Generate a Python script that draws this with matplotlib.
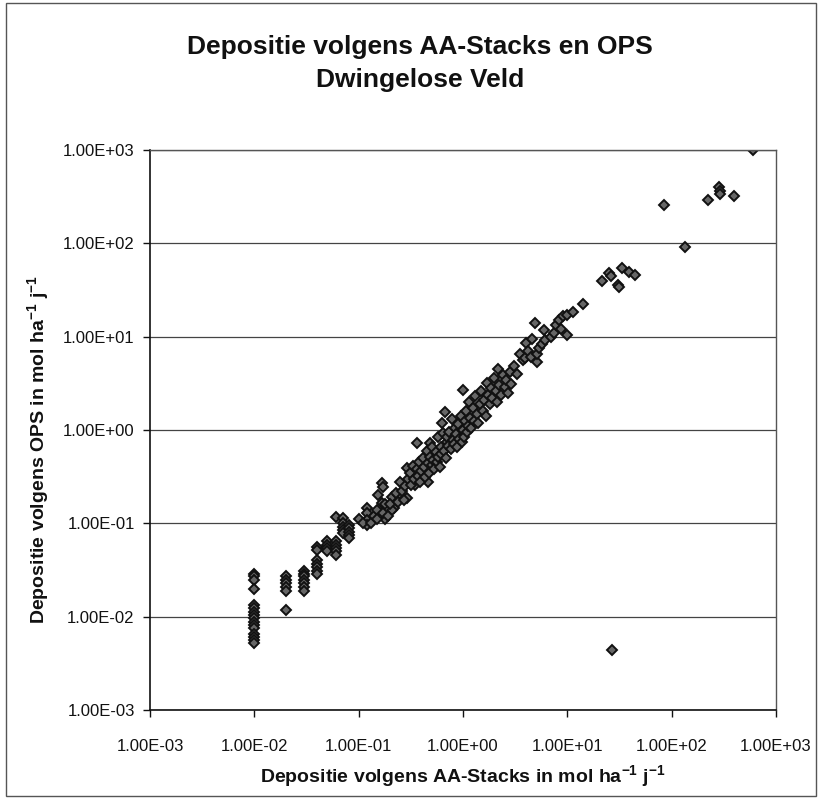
import matplotlib
matplotlib.use("Agg")
import matplotlib.pyplot as plt
from matplotlib.ticker import FixedLocator, FuncFormatter, NullLocator
from matplotlib.patches import Rectangle

plt.rcParams['font.family'] = ['Liberation Sans', 'DejaVu Sans']
plt.rcParams['mathtext.fontset'] = 'custom'
plt.rcParams['mathtext.rm'] = 'Liberation Sans:bold'
plt.rcParams['mathtext.bf'] = 'Liberation Sans:bold'
plt.rcParams['mathtext.default'] = 'bf'

title_lines = ["Depositie volgens AA-Stacks en OPS", "Dwingelose Veld"]
x_label = r"Depositie volgens AA-Stacks in mol ha$^{-1}$ j$^{-1}$"
y_label = r"Depositie volgens OPS in mol ha$^{-1}$ j$^{-1}$"
decades = [1e-3, 1e-2, 1e-1, 1e0, 1e1, 1e2, 1e3]

# --- low columns (AA-Stacks rounded to 0.01 .. 0.12) ---
low_x = ([0.01] * 16 + [0.02] * 6 + [0.03] * 7 + [0.04] * 7 + [0.05] * 4
         + [0.06] * 6 + [0.07] * 5 + [0.08] * 5 + [0.12] * 4)
low_y = [0.029, 0.027, 0.025, 0.020, 0.0133, 0.0123, 0.0113, 0.0104, 0.0096, 0.0088,
         0.0081, 0.0075, 0.0065, 0.0061, 0.0056, 0.0052,
         0.027, 0.025, 0.023, 0.021, 0.019, 0.0118,
         0.031, 0.029, 0.027, 0.025, 0.023, 0.021, 0.019,
         0.056, 0.052, 0.040, 0.037, 0.034, 0.031, 0.029,
         0.064, 0.059, 0.054, 0.051,
         0.118, 0.064, 0.059, 0.054, 0.050, 0.046,
         0.113, 0.100, 0.092, 0.085, 0.078,
         0.096, 0.089, 0.081, 0.075, 0.069,
         0.145, 0.128, 0.108, 0.096]

# --- middle cloud ---
mid_x = [0.18, 0.166, 0.154, 0.21, 0.24, 0.22, 0.21, 0.29, 0.167, 0.17, 0.35, 0.46,
         0.10, 0.11, 0.13, 0.14, 0.15, 0.15, 0.17, 0.18, 0.19, 0.20, 0.23, 0.24, 0.25,
         0.26, 0.27, 0.28, 0.29, 0.30, 0.31, 0.32, 0.33, 0.34, 0.36, 0.36, 0.37, 0.38,
         0.39, 0.40, 0.41, 0.42, 0.43, 0.45, 0.46, 0.47, 0.48, 0.48, 0.50, 0.51, 0.52,
         0.53, 0.55, 0.56, 0.57, 0.58, 0.60, 0.61, 0.62, 0.63, 0.65, 0.66, 0.67, 0.68,
         0.70, 0.71, 0.72, 0.74, 0.76, 0.78, 0.80, 0.82, 0.84, 0.86, 0.88, 0.90, 0.92,
         0.95, 0.97, 1.00, 1.00, 1.02, 1.05, 1.08, 1.10, 1.12, 1.15, 1.18, 1.20, 1.25,
         1.28, 1.30, 1.35, 1.40, 1.45, 1.50, 1.55, 1.60, 1.65, 1.70, 1.75, 1.80, 1.85,
         1.90, 2.00, 2.05, 2.10, 2.15, 2.20, 2.30, 2.40, 2.50, 2.60, 2.70, 2.80, 2.90]
mid_y = [0.11, 0.164, 0.20, 0.193, 0.20, 0.146, 0.14, 0.185, 0.27, 0.245, 0.26, 0.28,
         0.11, 0.10, 0.10, 0.12, 0.14, 0.11, 0.13, 0.16, 0.12, 0.16, 0.21, 0.17, 0.28,
         0.22, 0.18, 0.25, 0.39, 0.30, 0.35, 0.26, 0.41, 0.30, 0.72, 0.38, 0.32, 0.45,
         0.28, 0.36, 0.50, 0.40, 0.31, 0.60, 0.44, 0.35, 0.72, 0.52, 0.42, 0.65, 0.48,
         0.38, 0.58, 0.45, 0.85, 0.52, 0.40, 0.65, 0.55, 1.20, 0.92, 0.60, 1.57, 0.50,
         0.75, 0.85, 0.68, 0.95, 0.62, 1.30, 0.78, 0.70, 1.05, 0.90, 0.65, 1.15, 0.80,
         1.40, 0.75, 2.70, 1.00, 0.85, 1.25, 1.60, 0.95, 1.10, 2.00, 1.35, 1.05, 1.70,
         1.25, 2.30, 1.50, 1.20, 1.90, 2.60, 1.60, 2.10, 1.40, 3.20, 2.40, 1.90, 2.80,
         2.20, 3.60, 2.60, 2.00, 4.50, 3.00, 2.40, 3.90, 2.90, 3.40, 2.50, 4.20, 3.10]

# --- upper range ---
high_x = [3.1, 3.3, 3.5, 3.8, 3.9, 4.0, 4.2, 4.5, 4.6, 4.9, 5.1, 5.1, 5.4, 5.7, 6.0, 6.1,
          7.0, 7.4, 7.8, 8.3, 8.7, 9.1, 9.9, 10.0, 11.4, 14.0, 21.3, 25.0, 26.0, 30.3,
          31.0, 33.2, 39.3, 44.8, 134, 85, 224, 285, 288, 290, 393, 598, 27]
high_y = [4.8, 4.0, 6.5, 5.6, 5.9, 8.5, 7.0, 6.0, 9.5, 13.9, 5.3, 6.6, 7.5, 8.3, 11.8, 9.1,
          9.8, 11.0, 13.5, 15.0, 12.0, 16.5, 17.1, 10.4, 18.5, 22.4, 39.8, 48.5, 45.0, 36.0,
          34.0, 54.0, 49.0, 46.1, 90.6, 258, 291, 400, 365, 338, 321, 1000, 0.0044]

W, H = 818, 800
fig = plt.figure(figsize=(W / 100, H / 100), dpi=100)
fig.patch.set_facecolor('white')

# chart-area border
fig.add_artist(Rectangle((6 / W, 4 / H), (816 - 6) / W, (797 - 4) / H,
                         transform=fig.transFigure, fill=False,
                         edgecolor='#555555', linewidth=1.0))

ax = fig.add_axes([150 / W, 1 - 710 / H, 626 / W, 560 / H])
ax.set_xscale('log')
ax.set_yscale('log')
ax.set_xlim(1e-3, 1e3)
ax.set_ylim(1e-3, 1e3)

ax.xaxis.set_major_locator(FixedLocator(decades))
ax.yaxis.set_major_locator(FixedLocator(decades))
ax.xaxis.set_minor_locator(NullLocator())
ax.yaxis.set_minor_locator(NullLocator())
fmt = FuncFormatter(lambda v, p: f"{v:.2E}")
ax.xaxis.set_major_formatter(fmt)
ax.yaxis.set_major_formatter(fmt)

ax.grid(True, axis='y', color='#444444', linewidth=0.9)
ax.set_axisbelow(True)
for s in ['top', 'right']:
    ax.spines[s].set_color('#555555')
    ax.spines[s].set_linewidth(1.0)
for s in ['left', 'bottom']:
    ax.spines[s].set_color('#111111')
    ax.spines[s].set_linewidth(1.2)

ax.tick_params(axis='x', direction='out', length=5, width=1, pad=16,
               labelsize=12, colors='#111111')
ax.tick_params(axis='y', direction='out', length=5, width=1, pad=6,
               labelsize=12, colors='#111111')

all_x = low_x + mid_x + high_x
all_y = low_y + mid_y + high_y
ax.plot(all_x, all_y, linestyle='none', marker='D', markersize=5.2,
        markerfacecolor='#666666', markeredgecolor='#111111', markeredgewidth=1.4)

fig.text(420 / W, 1 - 47 / H, title_lines[0], ha='center', va='center',
         fontsize=19, fontweight='bold', color='#111111')
fig.text(420 / W, 1 - 80 / H, title_lines[1], ha='center', va='center',
         fontsize=19, fontweight='bold', color='#111111')
fig.text(463 / W, 1 - 776 / H, x_label, ha='center', va='center',
         fontsize=14, fontweight='bold', color='#111111')
fig.text(38 / W, 1 - 450 / H, y_label, ha='center', va='center', rotation=90,
         fontsize=14, fontweight='bold', color='#111111')

fig.savefig('out.png', dpi=100)
